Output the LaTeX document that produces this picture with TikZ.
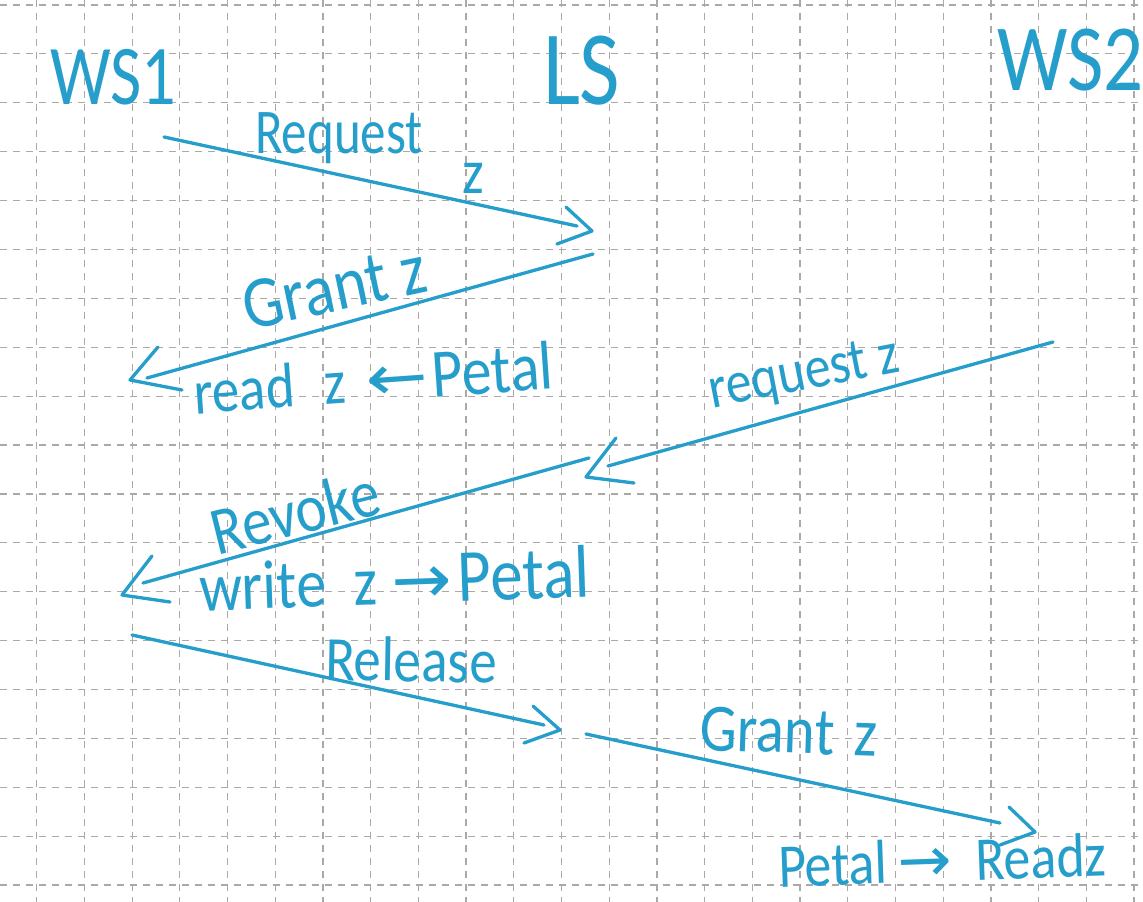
\documentclass[tikz,border=0pt]{standalone}
\usepackage{fontspec}
\usepackage{graphicx}
\setmainfont{Carlito}
\newfontfamily\arrowfont{DejaVu Sans}
\definecolor{ink}{RGB}{38,158,203}
\definecolor{gridc}{RGB}{172,168,168}
\newcommand{\hw}[2][1.15]{\scalebox{1}[#1]{#2}}
\newcommand{\larr}{\scalebox{1.35}[1]{\arrowfont ←}}
\newcommand{\rarr}{\scalebox{1.2}[1]{\arrowfont →}}
\begin{document}
\begin{tikzpicture}[x=1pt,y=-1pt,
  gridline/.style={gridc, line width=1.2pt, dash pattern=on 7pt off 6pt},
  msg/.style={ink, line width=3.3pt, line cap=round, line join=round},
  lbl/.style={text=ink, inner sep=0pt, outer sep=0pt, anchor=base west},
]
\useasboundingbox (0,0) rectangle (1143,902);
\fill[white] (0,0) rectangle (1143,902);
% grid
\foreach \k in {0,...,23} \draw[gridline] ({36.7+47.71*\k},0) -- ({36.7+47.71*\k},902);
\foreach \k in {0,...,18} \draw[gridline] (0,{5+48.89*\k}) -- (1143,{5+48.89*\k});

% actors
\node[lbl, font=\fontsize{68}{70}\selectfont] (ws1) at (50,104) {\hw[1.25]{WS1}};
\node[lbl, font=\fontsize{88}{90}\selectfont] (ls) at (543,104) {\hw[1.2]{LS}};
\node[lbl, font=\fontsize{79}{80}\selectfont] (ws2) at (997,90) {\hw[1.2]{WS2}};

% labels
\node[lbl, font=\fontsize{51}{55}\selectfont] (lreq) at (255,153) {\hw[1.25]{Request}};
\node[lbl, font=\fontsize{55}{55}\selectfont] (lz) at (462,193) {\hw{z}};
\node[lbl, font=\fontsize{64}{64}\selectfont, rotate=12] (lgrant) at (248,330) {\hw{Grant z}};
\node[lbl, font=\fontsize{55}{55}\selectfont, rotate=4] (lread) at (195,414) {\hw{read\hspace{30pt}z\hspace{20pt}\larr\hspace{4pt}{\fontsize{60}{60}\selectfont Petal}}};
\node[lbl, font=\fontsize{52}{52}\selectfont, rotate=11] (lreq2) at (712,408) {\hw{request z}};
\node[lbl, font=\fontsize{59}{59}\selectfont, rotate=14] (lrev) at (217,555) {\hw{Revoke}};
\node[lbl, font=\fontsize{60}{60}\selectfont, rotate=2] (lwrite) at (200,611) {\hw{write\hspace{28pt}z\hspace{14pt}\rarr\hspace{6pt}{\fontsize{65}{65}\selectfont Petal}}};
\node[lbl, font=\fontsize{55}{55}\selectfont, rotate=-1] (lrel) at (325,680) {\hw{Release}};
\node[lbl, font=\fontsize{59}{59}\selectfont, rotate=-2] (lgrant2) at (699,750) {\hw{Grant\hspace{20pt}z}};
\node[lbl, font=\fontsize{54}{54}\selectfont, rotate=2] (lpetal) at (779,887) {\hw{Petal\hspace{10pt}\rarr\hspace{24pt}Readz}};

% message 1: Request z (WS1 -> LS)
\coordinate (m1s) at (164,137);
\coordinate (m1e) at (577,226);
\coordinate (m1a) at (566,207);
\coordinate (m1t) at (592,231);
\coordinate (m1b) at (557,244);
\draw[msg] (m1s) -- (m1e);
\draw[msg] (m1a) -- (m1t) -- (m1b);

% message 2: Grant z (LS -> WS1)
\coordinate (m2s) at (593,254);
\coordinate (m2e) at (147,378);
\coordinate (m2a) at (158,347);
\coordinate (m2t) at (130,380);
\coordinate (m2b) at (182,390);
\draw[msg] (m2s) -- (m2e);
\draw[msg] (m2a) -- (m2t) -- (m2b);

% message 3: request z (WS2 -> LS)
\coordinate (m3s) at (1053,342);
\coordinate (m3e) at (608,466);
\coordinate (m3a) at (616,438);
\coordinate (m3t) at (586,477);
\coordinate (m3b) at (634,483);
\draw[msg] (m3s) -- (m3e);
\draw[msg] (m3a) -- (m3t) -- (m3b);

% message 4: Revoke (LS -> WS1)
\coordinate (m4s) at (589,458);
\coordinate (m4e) at (143,583);
\coordinate (m4a) at (152,556);
\coordinate (m4t) at (122,595);
\coordinate (m4b) at (170,602);
\draw[msg] (m4s) -- (m4e);
\draw[msg] (m4a) -- (m4t) -- (m4b);

% message 5: Release (WS1 -> LS)
\coordinate (m5s) at (132,635);
\coordinate (m5e) at (544,725);
\coordinate (m5a) at (533,706);
\coordinate (m5t) at (560,730);
\coordinate (m5b) at (524,743);
\draw[msg] (m5s) -- (m5e);
\draw[msg] (m5a) -- (m5t) -- (m5b);

% message 6: Grant z (LS -> WS2)
\coordinate (m6s) at (586,734);
\coordinate (m6e) at (1000,823);
\coordinate (m6a) at (1009,807);
\coordinate (m6t) at (1035,832);
\coordinate (m6b) at (1000,845);
\draw[msg] (m6s) -- (m6e);
\draw[msg] (m6a) -- (m6t) -- (m6b);
\end{tikzpicture}
\end{document}
